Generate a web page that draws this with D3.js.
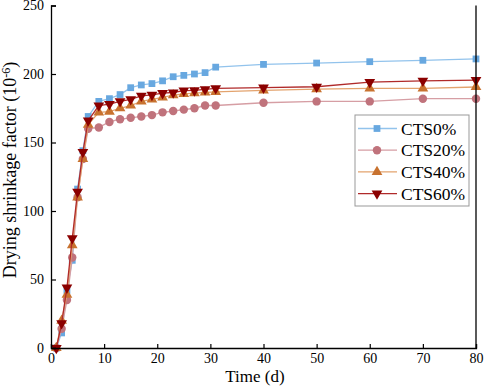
<!DOCTYPE html>
<html>
<head>
<meta charset="utf-8">
<script src="https://cdn.jsdelivr.net/npm/d3@7"></script>
<style>
  body { margin: 0; background: #fff; }
  svg text { font-family: "Liberation Serif", "Times New Roman", serif; }
</style>
</head>
<body>
<div id="chart"></div>
<script>
// Data
const days = [1, 2, 3, 4, 5, 6, 7, 9, 11, 13, 15, 17, 19, 21, 23, 25, 27, 29, 31, 40, 50, 60, 70, 80];
const cts0 = [0, 11, 42, 64, 116, 144, 169, 180, 182, 185, 190, 192, 193, 195, 198, 199, 200, 201, 205, 207, 208, 209, 210, 211];
const cts20 = [0, 14, 35, 66, 110, 138, 160, 161, 165, 167, 168, 169, 170, 172, 173, 174, 175, 177, 177, 179, 180, 180, 182, 182];
const cts40 = [0, 20, 39, 75, 110, 138, 163, 172, 172.5, 175, 177, 180, 181.5, 183, 184.5, 185.5, 186, 186.5, 187, 188, 189, 189.5, 189.5, 190.5];
const cts60 = [0, 18, 44, 80, 114, 143, 166, 177, 178, 180, 181.5, 184, 184.7, 186, 186.5, 187.8, 188, 188.8, 189.5, 190, 190.7, 194, 195, 195.5];
const seriesNames = ["CTS0%", "CTS20%", "CTS40%", "CTS60%"];
const xTicks = [0, 10, 20, 30, 40, 50, 60, 70, 80];
const yTicks = [0, 50, 100, 150, 200, 250];

const series = [
  { name: seriesNames[0], values: cts0, fill: "#68a8e0", line: "#92c3ec", symbol: d3.symbolSquare, size: 46, rot: 0 },
  { name: seriesNames[1], values: cts20, fill: "#c0737c", line: "#d69ea4", symbol: d3.symbolCircle, size: 56, rot: 0 },
  { name: seriesNames[2], values: cts40, fill: "#c8722f", line: "#e3a36e", symbol: d3.symbolTriangle, size: 50, rot: 0 },
  { name: seriesNames[3], values: cts60, fill: "#8b0000", line: "#b02a2a", symbol: d3.symbolTriangle, size: 50, rot: 180 },
];

const width = 484, height = 389;
const svg = d3.select("#chart").append("svg").attr("width", width).attr("height", height);

const x = d3.scaleLinear().domain([0, 80]).range([51, 476]);
const y = d3.scaleLinear().domain([0, 250]).range([348, 5.5]);

// Lines and markers
const line = d3.line().x((d) => x(d[0])).y((d) => y(d[1]));
series.forEach((s) => {
  const pts = days.map((d, i) => [d, s.values[i]]);
  svg.append("path")
    .attr("d", line(pts))
    .attr("fill", "none")
    .attr("stroke", s.line)
    .attr("stroke-width", 1.3);
  svg.selectAll(null)
    .data(pts)
    .enter()
    .append("path")
    .attr("d", d3.symbol().type(s.symbol).size(s.size))
    .attr("transform", (d) => `translate(${x(d[0])},${y(d[1])}) rotate(${s.rot})`)
    .attr("fill", s.fill);
});

// Axes
const xAxis = svg.append("g")
  .attr("transform", `translate(0,${y(0)})`)
  .call(d3.axisBottom(x).tickValues(xTicks).tickSize(-4).tickPadding(5));
const yAxis = svg.append("g")
  .attr("transform", `translate(${x(0)},0)`)
  .call(d3.axisLeft(y).tickValues(yTicks).tickSize(-5).tickPadding(7));
[xAxis, yAxis].forEach((a) => {
  a.select(".domain").attr("stroke", "#000").attr("stroke-width", 1.3);
  a.selectAll(".tick line").attr("stroke", "#000").attr("stroke-width", 1.2);
  a.selectAll(".tick text")
    .attr("fill", "#000")
    .style("font-family", "'Liberation Serif', serif")
    .style("font-size", "14px");
});
// right frame line
svg.append("line")
  .attr("x1", x(80)).attr("x2", x(80))
  .attr("y1", y(250)).attr("y2", y(0))
  .attr("stroke", "#000").attr("stroke-width", 1.3);

// Axis titles
svg.append("text")
  .attr("x", 255)
  .attr("y", 382)
  .attr("text-anchor", "middle")
  .style("font-size", "17px")
  .text("Time (d)");

const yt = svg.append("text")
  .attr("transform", "translate(16,170) rotate(-90)")
  .attr("text-anchor", "middle")
  .style("font-size", "18px");
yt.append("tspan").text("Drying shrinkage factor (10");
yt.append("tspan").attr("dy", -6).style("font-size", "12px").text("-6");
yt.append("tspan").attr("dy", 6).text(")");

// Legend
const lg = svg.append("g");
lg.append("rect")
  .attr("x", 355).attr("y", 115)
  .attr("width", 114).attr("height", 91)
  .attr("fill", "#fff")
  .attr("stroke", "#999")
  .attr("stroke-width", 1);
series.forEach((s, i) => {
  const ly = 128.5 + i * 21.7;
  lg.append("line")
    .attr("x1", 358).attr("x2", 397)
    .attr("y1", ly).attr("y2", ly)
    .attr("stroke", s.line).attr("stroke-width", 1.3);
  lg.append("path")
    .attr("d", d3.symbol().type(s.symbol).size(s.size))
    .attr("transform", `translate(377,${ly}) rotate(${s.rot})`)
    .attr("fill", s.fill);
  lg.append("text")
    .attr("x", 401)
    .attr("y", ly)
    .attr("dy", "0.35em")
    .style("font-size", "17.5px")
    .text(s.name);
});
</script>
</body>
</html>
